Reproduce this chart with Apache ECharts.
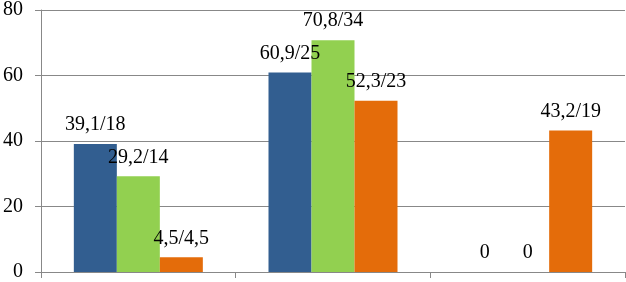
<!DOCTYPE html>
<html>
<head>
<meta charset="utf-8">
<script src="https://cdn.jsdelivr.net/npm/echarts@6/dist/echarts.min.js"></script>
<style>html,body{margin:0;padding:0;background:#fff;}#c{width:626px;height:282px;}</style>
</head>
<body>
<div id="c"></div>
<script>
var categories = ['1', '2', '3'];
var blueValues = [39.1, 60.9, 0];
var blueLabels = ['39,1/18', '60,9/25', '0'];
var greenValues = [29.2, 70.8, 0];
var greenLabels = ['29,2/14', '70,8/34', '0'];
var orangeValues = [4.5, 52.3, 43.2];
var orangeLabels = ['4,5/4,5', '52,3/23', '43,2/19'];
var yTicks = [0, 20, 40, 60, 80];

var FONT = '"Liberation Serif", "Times New Roman", serif';
function mk(name, vals, labels, color) {
  return {
    name: name, type: 'bar', data: vals, barWidth: 43, barGap: '0%',
    itemStyle: { color: color },
    label: {
      show: true, position: 'top', distance: 9,
      fontFamily: FONT, fontSize: 20, color: '#000',
      formatter: function (p) { return labels[p.dataIndex]; }
    }
  };
}
var chart = echarts.init(document.getElementById('c'), null, { renderer: 'canvas' });
chart.setOption({
  animation: false,
  grid: { left: 39, right: 1, top: 7, bottom: 8, containLabel: false },
  xAxis: {
    type: 'category', data: categories,
    axisLine: { lineStyle: { color: '#888', width: 1 } },
    axisTick: { show: true, length: 6, lineStyle: { color: '#888' } },
    axisLabel: { show: false }
  },
  yAxis: {
    type: 'value', min: yTicks[0], max: yTicks[yTicks.length - 1], interval: 20,
    axisLine: { show: true, lineStyle: { color: '#888', width: 1 } },
    axisTick: { show: true, length: 6, lineStyle: { color: '#888' } },
    axisLabel: { fontFamily: FONT, fontSize: 20, color: '#000', margin: 18 },
    splitLine: { lineStyle: { color: '#888', width: 1 } }
  },
  series: [
    mk('blue', blueValues, blueLabels, '#325E90'),
    mk('green', greenValues, greenLabels, '#92D050'),
    mk('orange', orangeValues, orangeLabels, '#E46C0A')
  ]
});
</script>
</body>
</html>
